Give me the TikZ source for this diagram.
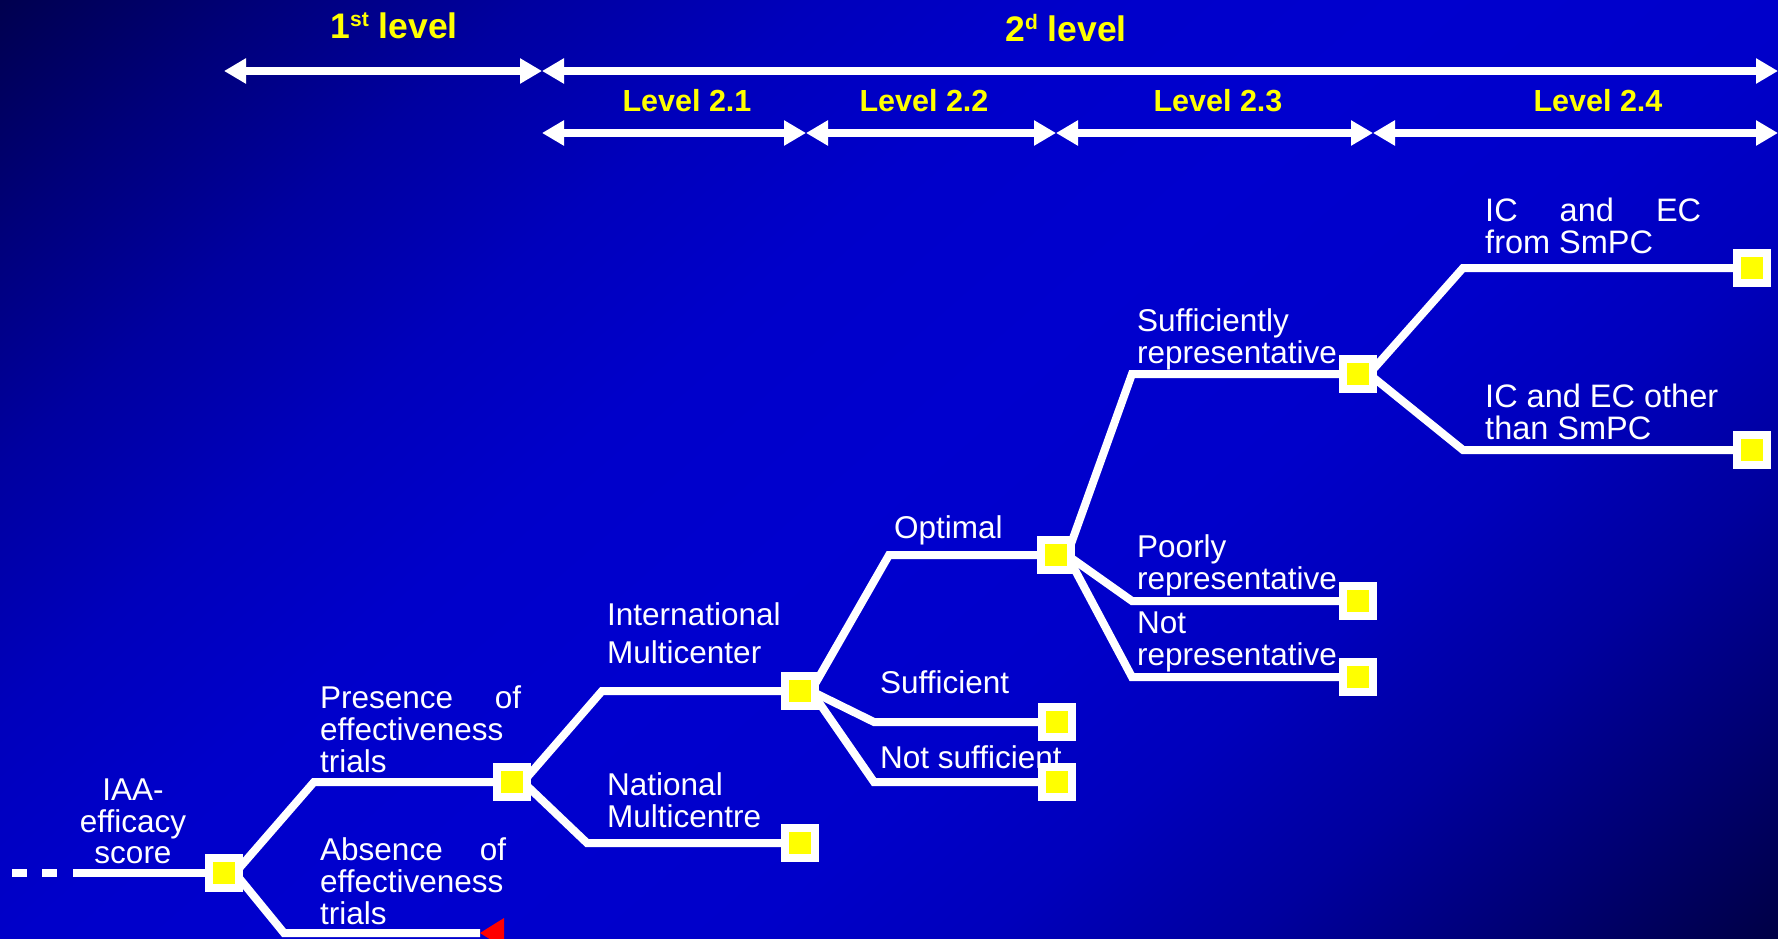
\documentclass[tikz,border=0pt]{standalone}
\usepackage{fontspec}
\setmainfont{Liberation Sans}
\usetikzlibrary{arrows.meta}

\pgfdeclarelayer{bg}
\pgfdeclarelayer{wires}
\pgfdeclarelayer{labels}
\pgfsetlayers{bg,wires,labels,main}

% backdrop blues, darkest to brightest
\definecolor{bluea}{RGB}{0,0,78}
\definecolor{blueb}{RGB}{0,0,122}
\definecolor{bluec}{RGB}{0,0,160}
\definecolor{blued}{RGB}{0,0,188}
\definecolor{bluee}{RGB}{0,0,202}
\definecolor{royal}{RGB}{0,0,206}
\definecolor{bluef}{RGB}{0,0,158}
\definecolor{blueg}{RGB}{0,0,115}
\definecolor{blueh}{RGB}{0,0,68}
\definecolor{hdryellow}{RGB}{255,255,0}

% dark - bright - dark band, laid across the slide later
\pgfdeclarehorizontalshading{backdropshade}{2400bp}{%
  color(0bp)=(bluea); color(61bp)=(bluea);
  color(240bp)=(blueb); color(413bp)=(bluec); color(600bp)=(blued);
  color(780bp)=(bluee); color(1000bp)=(royal); color(1250bp)=(bluee);
  color(1413bp)=(blued); color(1587bp)=(bluef); color(1760bp)=(blueg);
  color(1939bp)=(blueh); color(2000bp)=(blueh)}

\tikzset{
  leaf/.style={draw=white, line width=7.5pt, fill=hdryellow, minimum size=30pt,
               inner sep=0pt, outer sep=0pt},
  branch/.style={draw=white, line width=8pt, line join=miter},
  span/.style={draw=white, line width=8pt, >={Triangle[length=22pt,width=24pt]}, <->},
  lbl/.style={text=white, inner sep=0pt, font=\fontsize{31.5}{31}\selectfont, anchor=base west},
  hdr/.style={text=hdryellow, inner sep=0pt, font=\bfseries\fontsize{30.5}{30.5}\selectfont, anchor=base},
  bighdr/.style={text=hdryellow, inner sep=0pt, font=\bfseries\fontsize{35.5}{35.5}\selectfont, anchor=base},
}

\begin{document}
\begin{tikzpicture}[x=1pt,y=-1pt]
\useasboundingbox (0,0) rectangle (1778,939);

% backdrop: dark corners top left and bottom right, bright band along the rising diagonal
\begin{pgfonlayer}{bg}
  \begin{scope}
    \clip (0,0) rectangle (1778,939);
    \node[inner sep=0pt, outer sep=0pt, rotate=-48.7] (backdrop) at (889,470)
      {\pgfuseshading{backdropshade}};
  \end{scope}
\end{pgfonlayer}

% level ranges
\coordinate (h0) at (224,71);
\coordinate (h1) at (542,71);
\coordinate (h2) at (1778,71);
\coordinate (s0) at (542,133);
\coordinate (s1) at (806,133);
\coordinate (s2) at (1056,133);
\coordinate (s3) at (1373,133);
\coordinate (s4) at (1778,133);
\draw[span] (h0) -- (h1);
\draw[span] (h1) -- (h2);
\draw[span] (s0) -- (s1);
\draw[span] (s1) -- (s2);
\draw[span] (s2) -- (s3);
\draw[span] (s3) -- (s4);

\node[bighdr] (lvlone) at (394,39) {1\raisebox{12pt}{\fontsize{21}{21}\selectfont st} level};
\node[bighdr] (lvltwo) at (1066,42) {2\raisebox{12pt}{\fontsize{21}{21}\selectfont d} level};
\node[hdr] (lvla) at (687,112) {Level 2.1};
\node[hdr] (lvlb) at (924,112) {Level 2.2};
\node[hdr] (lvlc) at (1218,112) {Level 2.3};
\node[hdr] (lvld) at (1598,112) {Level 2.4};

% decision boxes
\node[leaf] (b1)  at (224,873) {};
\node[leaf] (b2)  at (512,782) {};
\node[leaf] (b3)  at (800,691) {};
\node[leaf] (b4)  at (800,843) {};
\node[leaf] (b5)  at (1057,722) {};
\node[leaf] (b6)  at (1057,782) {};
\node[leaf] (b7)  at (1056,555) {};
\node[leaf] (b8)  at (1358,374) {};
\node[leaf] (b9)  at (1358,601) {};
\node[leaf] (b10) at (1358,677) {};
\node[leaf] (b11) at (1752,268) {};
\node[leaf] (b12) at (1752,450) {};

\coordinate (root) at (12,873);
\coordinate (absend) at (480,933);

% branches
\begin{pgfonlayer}{wires}
  \draw[branch, dash pattern=on 15pt off 15pt on 15pt off 16pt on 400pt] (root) -- (b1.center);
  \draw[branch] ([xshift=-4pt]b1.east) -- (314,782) -- (b2.center);
  \draw[branch] ([xshift=-4pt]b1.east) -- (284,933) -- (absend);
  \draw[branch] ([xshift=-4pt]b2.east) -- (602,691) -- (b3.center);
  \draw[branch] ([xshift=-4pt]b2.east) -- (587,843) -- (b4.center);
  \draw[branch] ([xshift=-4pt]b3.east) -- (889,555) -- (b7.center);
  \draw[branch] ([xshift=-4pt]b3.east) -- (874,722) -- (b5.center);
  \draw[branch] ([xshift=-4pt]b3.east) -- (874,782) -- (b6.center);
  \draw[branch] ([xshift=-4pt]b7.east) -- (1132,374) -- (b8.center);
  \draw[branch] ([xshift=-4pt]b7.east) -- (1132,601) -- (b9.center);
  \draw[branch] ([xshift=-4pt]b7.east) -- (1132,677) -- (b10.center);
  \draw[branch] ([xshift=-4pt]b8.east) -- (1463,268) -- (b11.center);
  \draw[branch] ([xshift=-4pt]b8.east) -- (1463,450) -- (b12.center);
  \fill[red] (absend) -- ++(24,-15) -- ++(0,30) -- cycle;
\end{pgfonlayer}

% branch labels
\begin{pgfonlayer}{labels}
  \node[lbl, anchor=base] (tIAA) at (133,800)
    {\begin{tabular}[t]{@{}c@{}}IAA-\\efficacy\\score\end{tabular}};
  \node[lbl] (tpres) at (320,708)
    {\begin{tabular}[t]{@{}l@{}}\makebox[201pt][s]{Presence of}\\effectiveness\\trials\end{tabular}};
  \node[lbl] (tabs) at (320,860)
    {\begin{tabular}[t]{@{}l@{}}\makebox[186pt][s]{Absence of}\\effectiveness\\trials\end{tabular}};
  \node[lbl, font=\fontsize{31.5}{38}\selectfont] (tintl) at (607,625)
    {\begin{tabular}[t]{@{}l@{}}International\\Multicenter\end{tabular}};
  \node[lbl] (tnat) at (607,795)
    {\begin{tabular}[t]{@{}l@{}}National\\Multicentre\end{tabular}};
  \node[lbl] (tsuff) at (880,693) {Sufficient};
  \node[lbl] (tnsuff) at (880,768) {Not sufficient};
  \node[lbl] (topt) at (894,538) {Optimal};
  \node[lbl] (tsrep) at (1137,331)
    {\begin{tabular}[t]{@{}l@{}}Sufficiently\\representative\end{tabular}};
  \node[lbl] (tprep) at (1137,557)
    {\begin{tabular}[t]{@{}l@{}}Poorly\\representative\end{tabular}};
  \node[lbl] (tnrep) at (1137,633)
    {\begin{tabular}[t]{@{}l@{}}Not\\representative\end{tabular}};
  \node[lbl, font=\fontsize{32.5}{29.5}\selectfont] (tsmpc) at (1485,221)
    {\begin{tabular}[t]{@{}l@{}}\makebox[216pt][s]{IC and EC}\\from SmPC\end{tabular}};
  \node[lbl, font=\fontsize{32.5}{30}\selectfont] (tother) at (1485,407)
    {\begin{tabular}[t]{@{}l@{}}IC and EC other\\than SmPC\end{tabular}};
\end{pgfonlayer}
\end{tikzpicture}
\end{document}
